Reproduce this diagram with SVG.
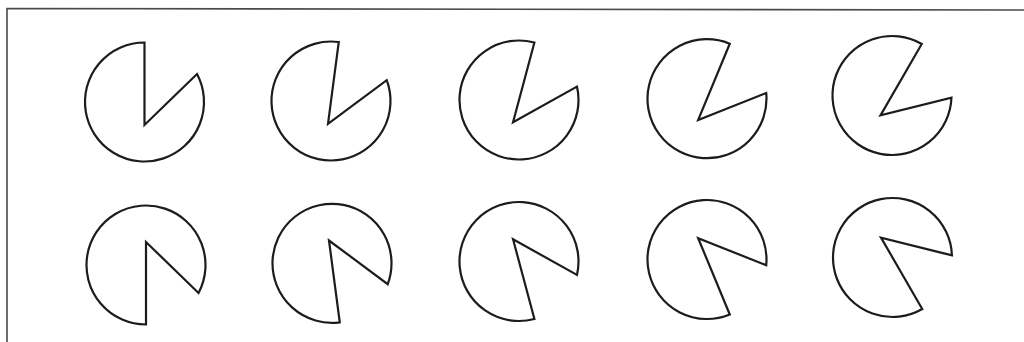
<svg xmlns="http://www.w3.org/2000/svg" xmlns:xlink="http://www.w3.org/1999/xlink" width="1024" height="342" viewBox="0 0 1024 342">
  <style>
    .pac { fill: #ffffff; stroke: #1c1c1c; stroke-width: 2.2; stroke-linejoin: miter; }
    .frame { fill: none; stroke: #4a4a4a; stroke-width: 1.6; }
  </style>
  <defs>
    <path id="pac" class="pac" d="M0,23 L0,-59.5 A59.5,59.5 0 1 0 52.53,-27.93 Z"/>
  </defs>
  <rect width="1024" height="342" fill="#ffffff"/>
  <g id="frame">
    <path class="frame" d="M7,342 L7,8.5 L1024,10"/>
  </g>
  <g id="top-row">
    <g id="t1" transform="translate(144.5,102) rotate(0)"><use xlink:href="#pac"/></g>
    <g id="t2" transform="translate(331,101) rotate(7.5)"><use xlink:href="#pac"/></g>
    <g id="t3" transform="translate(519,100) rotate(15)"><use xlink:href="#pac"/></g>
    <g id="t4" transform="translate(707,98.7) rotate(22.5)"><use xlink:href="#pac"/></g>
    <g id="t5" transform="translate(892,95.5) rotate(30)"><use xlink:href="#pac"/></g>
  </g>
  <g id="bottom-row">
    <g id="b1" transform="translate(146,265) scale(1,-1) rotate(0)"><use xlink:href="#pac"/></g>
    <g id="b2" transform="translate(332,263.3) scale(1,-1) rotate(7.5)"><use xlink:href="#pac"/></g>
    <g id="b3" transform="translate(519,261.5) scale(1,-1) rotate(15)"><use xlink:href="#pac"/></g>
    <g id="b4" transform="translate(707,259.5) scale(1,-1) rotate(22.5)"><use xlink:href="#pac"/></g>
    <g id="b5" transform="translate(892.5,257.5) scale(1,-1) rotate(30)"><use xlink:href="#pac"/></g>
  </g>
  <g id="connectors"/>
</svg>
